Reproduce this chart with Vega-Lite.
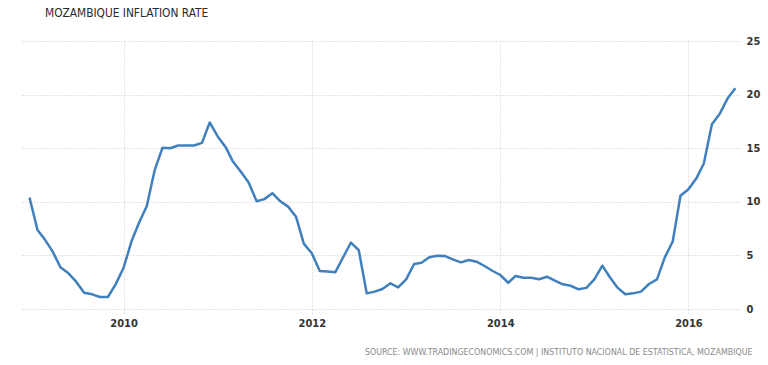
{
  "$schema": "https://vega.github.io/schema/vega-lite/v6.json",
  "autosize": {"type": "none"},
  "width": 719,
  "height": 268,
  "padding": {"left": 21, "top": 41, "right": 28, "bottom": 56},
  "background": "white",
  "title": {
    "text": "MOZAMBIQUE INFLATION RATE",
    "anchor": "start",
    "dx": 24,
    "offset": 15,
    "font": "DejaVu Sans Condensed",
    "fontSize": 11.8,
    "fontWeight": "normal",
    "color": "#2a2a2a"
  },
  "config": {
    "view": {"stroke": null},
    "axis": {"labelFont": "DejaVu Sans Condensed", "titleFont": "DejaVu Sans Condensed"}
  },
  "data": {
    "values": [
      {"date": "2009-01-01", "rate": 10.4},
      {"date": "2009-02-01", "rate": 7.37},
      {"date": "2009-03-01", "rate": 6.5},
      {"date": "2009-04-01", "rate": 5.35},
      {"date": "2009-05-01", "rate": 3.9},
      {"date": "2009-06-01", "rate": 3.33},
      {"date": "2009-07-01", "rate": 2.55},
      {"date": "2009-08-01", "rate": 1.52},
      {"date": "2009-09-01", "rate": 1.37},
      {"date": "2009-10-01", "rate": 1.12},
      {"date": "2009-11-01", "rate": 1.12},
      {"date": "2009-12-01", "rate": 2.3},
      {"date": "2010-01-01", "rate": 3.85},
      {"date": "2010-02-01", "rate": 6.34},
      {"date": "2010-03-01", "rate": 8.0},
      {"date": "2010-04-01", "rate": 9.6},
      {"date": "2010-05-01", "rate": 12.9},
      {"date": "2010-06-01", "rate": 15.05},
      {"date": "2010-07-01", "rate": 15.0},
      {"date": "2010-08-01", "rate": 15.25},
      {"date": "2010-09-01", "rate": 15.25},
      {"date": "2010-10-01", "rate": 15.25},
      {"date": "2010-11-01", "rate": 15.5},
      {"date": "2010-12-01", "rate": 17.4},
      {"date": "2011-01-01", "rate": 16.1},
      {"date": "2011-02-01", "rate": 15.1},
      {"date": "2011-03-01", "rate": 13.75},
      {"date": "2011-04-01", "rate": 12.8},
      {"date": "2011-05-01", "rate": 11.8},
      {"date": "2011-06-01", "rate": 10.05},
      {"date": "2011-07-01", "rate": 10.25},
      {"date": "2011-08-01", "rate": 10.8},
      {"date": "2011-09-01", "rate": 10.05},
      {"date": "2011-10-01", "rate": 9.55},
      {"date": "2011-11-01", "rate": 8.6},
      {"date": "2011-12-01", "rate": 6.1},
      {"date": "2012-01-01", "rate": 5.2},
      {"date": "2012-02-01", "rate": 3.55},
      {"date": "2012-03-01", "rate": 3.5},
      {"date": "2012-04-01", "rate": 3.42},
      {"date": "2012-05-01", "rate": 4.8},
      {"date": "2012-06-01", "rate": 6.2},
      {"date": "2012-07-01", "rate": 5.5},
      {"date": "2012-08-01", "rate": 1.46},
      {"date": "2012-09-01", "rate": 1.62},
      {"date": "2012-10-01", "rate": 1.87},
      {"date": "2012-11-01", "rate": 2.4},
      {"date": "2012-12-01", "rate": 2.02},
      {"date": "2013-01-01", "rate": 2.77},
      {"date": "2013-02-01", "rate": 4.2},
      {"date": "2013-03-01", "rate": 4.32},
      {"date": "2013-04-01", "rate": 4.82},
      {"date": "2013-05-01", "rate": 4.96},
      {"date": "2013-06-01", "rate": 4.94},
      {"date": "2013-07-01", "rate": 4.63},
      {"date": "2013-08-01", "rate": 4.35},
      {"date": "2013-09-01", "rate": 4.57},
      {"date": "2013-10-01", "rate": 4.41},
      {"date": "2013-11-01", "rate": 4.01},
      {"date": "2013-12-01", "rate": 3.57},
      {"date": "2014-01-01", "rate": 3.17},
      {"date": "2014-02-01", "rate": 2.45},
      {"date": "2014-03-01", "rate": 3.08},
      {"date": "2014-04-01", "rate": 2.92},
      {"date": "2014-05-01", "rate": 2.92},
      {"date": "2014-06-01", "rate": 2.77},
      {"date": "2014-07-01", "rate": 3.01},
      {"date": "2014-08-01", "rate": 2.64},
      {"date": "2014-09-01", "rate": 2.3},
      {"date": "2014-10-01", "rate": 2.17},
      {"date": "2014-11-01", "rate": 1.84},
      {"date": "2014-12-01", "rate": 1.97},
      {"date": "2015-01-01", "rate": 2.77},
      {"date": "2015-02-01", "rate": 4.04},
      {"date": "2015-03-01", "rate": 3.01},
      {"date": "2015-04-01", "rate": 1.99},
      {"date": "2015-05-01", "rate": 1.37},
      {"date": "2015-06-01", "rate": 1.46},
      {"date": "2015-07-01", "rate": 1.62},
      {"date": "2015-08-01", "rate": 2.33},
      {"date": "2015-09-01", "rate": 2.77},
      {"date": "2015-10-01", "rate": 4.8},
      {"date": "2015-11-01", "rate": 6.3},
      {"date": "2015-12-01", "rate": 10.57},
      {"date": "2016-01-01", "rate": 11.17},
      {"date": "2016-02-01", "rate": 12.19},
      {"date": "2016-03-01", "rate": 13.59},
      {"date": "2016-04-01", "rate": 17.23},
      {"date": "2016-05-01", "rate": 18.19},
      {"date": "2016-06-01", "rate": 19.65},
      {"date": "2016-07-01", "rate": 20.59}
    ]
  },
  "mark": {"type": "line", "color": "#4080bd", "strokeWidth": 2.5, "strokeJoin": "round"},
  "encoding": {
    "x": {
      "field": "date",
      "type": "temporal",
      "scale": {"type": "utc", "domain": [{"year": 2008, "month": 11, "date": 29, "utc": true}, {"year": 2016, "month": 7, "date": 19, "utc": true}]},
      "axis": {
        "values": [
          {"year": 2010, "month": 1, "date": 1, "utc": true},
          {"year": 2012, "month": 1, "date": 1, "utc": true},
          {"year": 2014, "month": 1, "date": 1, "utc": true},
          {"year": 2016, "month": 1, "date": 1, "utc": true}
        ],
        "format": "%Y",
        "formatType": "utc",
        "domain": false,
        "grid": true,
        "gridColor": "#c8c8c8",
        "gridDash": [1, 2],
        "ticks": true,
        "tickColor": "#c8c8c8",
        "tickDash": [1, 2],
        "tickSize": 5,
        "labelFontSize": 11,
        "labelColor": "#333333",
        "labelFontWeight": "bold",
        "labelPadding": 3,
        "title": "SOURCE: WWW.TRADINGECONOMICS.COM | INSTITUTO NACIONAL DE ESTATISTICA, MOZAMBIQUE",
        "titleAnchor": "end",
        "titleFontSize": 8.8,
        "titleFontWeight": "normal",
        "titleColor": "#8a8a8a",
        "titlePadding": 19,
        "titleX": 731
      }
    },
    "y": {
      "field": "rate",
      "type": "quantitative",
      "scale": {"domain": [0, 25], "nice": false},
      "axis": {
        "orient": "right",
        "values": [0, 5, 10, 15, 20, 25],
        "domain": false,
        "ticks": false,
        "grid": true,
        "gridColor": "#c8c8c8",
        "gridDash": [1, 2],
        "labelFontSize": 11,
        "labelColor": "#333333",
        "labelFontWeight": "bold",
        "labelPadding": 6,
        "title": null
      }
    }
  }
}
